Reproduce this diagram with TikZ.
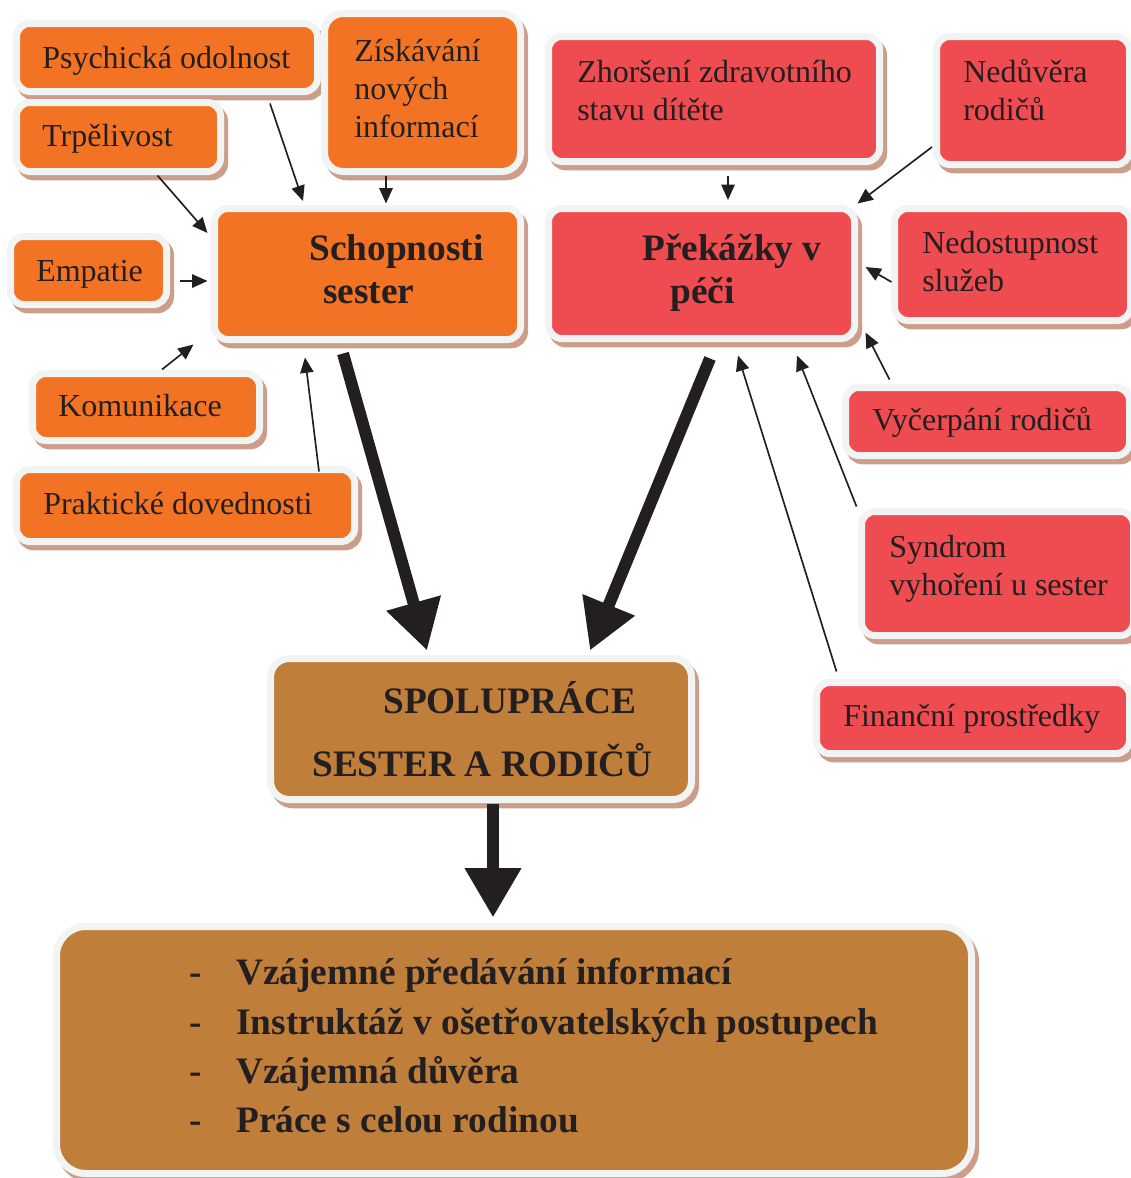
\documentclass[tikz,border=0pt]{standalone}
\usepackage{fontspec}
\setmainfont{Liberation Serif}
\usetikzlibrary{arrows.meta,calc,shadows}
\definecolor{boxorange}{HTML}{F27323}
\definecolor{boxred}{HTML}{EE4C50}
\definecolor{boxbrown}{HTML}{BF7E3A}
\definecolor{rimgray}{HTML}{F2F4F3}
\definecolor{shadowtan}{HTML}{CC9E8A}
\definecolor{ink}{HTML}{231F20}
\begin{document}
\begin{tikzpicture}[x=0.75pt,y=-0.75pt,
  card/.style={draw=rimgray, line width=5.25pt, rounded corners=10pt, inner sep=0pt,
    drop shadow={shadow xshift=3pt, shadow yshift=-4pt, fill=shadowtan,
      draw=shadowtan, line width=5.25pt, opacity=1}},
  sz/.style 2 args={minimum width={(#1+7)*0.75pt}, minimum height={(#2+7)*0.75pt}},
  orange/.style={card, fill=boxorange},
  red/.style={card, fill=boxred},
  brown/.style={card, fill=boxbrown},
  txt/.style={anchor=base west, inner sep=0pt, text=ink, font=\fontsize{24}{28}\selectfont},
  btxt/.style={anchor=base west, inner sep=0pt, text=ink, font=\fontsize{28}{32}\selectfont\bfseries},
  thin arrow/.style={draw=ink, line width=1.25pt, -{Triangle[length=11.5pt,width=10pt]}},
  big arrow/.style={draw=ink, line width=9pt, -{Triangle[length=37pt,width=40pt]}}
]
\useasboundingbox (0,0) rectangle (1131,1178);

% --- left group: abilities of nurses
\node[orange, sz={294}{61}] (psy) at (167,57.5) {};
\node[orange, sz={189}{151}, rounded corners=14pt] (zis) at (422.5,92.5) {};
\node[orange, sz={197}{62}] (trp) at (118.5,137) {};
\node[orange, sz={149}{61}] (emp) at (88.5,270.5) {};
\node[orange, sz={299}{124}] (sch) at (367.5,274) {};
\node[orange, sz={220}{60}] (kom) at (146,407) {};
\node[orange, sz={331}{65}] (pra) at (185.5,505.5) {};

% --- right group: obstacles in care
\node[red, sz={324}{118}] (zho) at (714,99) {};
\node[red, sz={186}{121}] (ned) at (1033,100.5) {};
\node[red, sz={299}{123}] (pre) at (701.5,273.5) {};
\node[red, sz={229}{105}] (nds) at (1012.5,264.5) {};
\node[red, sz={277}{61}] (vyc) at (987.5,421.5) {};
\node[red, sz={265}{117}] (syn) at (997.5,573.5) {};
\node[red, sz={306}{64}] (fin) at (973,718) {};

% --- cooperation and its outcomes
\node[brown, sz={414}{134}, rounded corners=14pt] (spo) at (481,729) {};
\node[brown, sz={908}{240}, rounded corners=22pt] (res) at (514,1050) {};

% --- texts
\node[txt] (psy-t) at (42,68) {Psychická odolnost};
\node[txt] (zis-t1) at (354,61) {Získávání};
\node[txt] (zis-t2) at (354,99) {nových};
\node[txt] (zis-t3) at (354,137) {informací};
\node[txt] (trp-t) at (42,146) {Trpělivost};
\node[txt] (emp-t) at (36,281) {Empatie};
\node[btxt] (sch-t1) at (309,260) {Schopnosti};
\node[btxt] (sch-t2) at (323,303) {sester};
\node[txt] (kom-t) at (58,416) {Komunikace};
\node[txt] (pra-t) at (43,514) {Praktické dovednosti};

\node[txt] (zho-t1) at (577,82) {Zhoršení zdravotního};
\node[txt] (zho-t2) at (577,120) {stavu dítěte};
\node[txt] (ned-t1) at (963,82) {Nedůvěra};
\node[txt] (ned-t2) at (963,120) {rodičů};
\node[btxt] (pre-t1) at (642,260) {Překážky v};
\node[btxt] (pre-t2) at (670,303) {péči};
\node[txt] (nds-t1) at (922,253) {Nedostupnost};
\node[txt] (nds-t2) at (922,291) {služeb};
\node[txt] (vyc-t) at (872,430) {Vyčerpání rodičů};
\node[txt] (syn-t1) at (889,557) {Syndrom};
\node[txt] (syn-t2) at (889,595) {vyhoření u sester};
\node[txt] (fin-t) at (843,726) {Finanční prostředky};

\node[btxt] (spo-t1) at (383,713) {SPOLUPRÁCE};
\node[btxt] (spo-t2) at (312,776) {SESTER A RODIČŮ};

\node[btxt] (res-t1) at (189,984) {\makebox[35.25pt][l]{-}Vzájemné předávání informací};
\node[btxt] (res-t2) at (189,1034) {\makebox[35.25pt][l]{-}Instruktáž v ošetřovatelských postupech};
\node[btxt] (res-t3) at (189,1083) {\makebox[35.25pt][l]{-}Vzájemná důvěra};
\node[btxt] (res-t4) at (189,1132) {\makebox[35.25pt][l]{-}Práce s celou rodinou};

% --- thin arrows into the abilities box
\draw[thin arrow] ($(psy.south)+(103,8.5)$) -- ($(sch.north)+(-64.5,-4)$);
\draw[thin arrow] ($(zis.south)+(-36.5,1)$) -- ($(sch.north)+(18.5,-1.5)$);
\draw[thin arrow] ($(trp.south)+(39,0.5)$) -- ($(sch.west)+(-3.5,-41)$);
\draw[thin arrow] ($(emp.east)+(10,10.5)$) -- ($(sch.west)+(-3.5,7)$);
\draw[thin arrow] ($(kom.north)+(16,-0.5)$) -- ($(sch.south west)+(-17.5,1.5)$);
\draw[thin arrow] ($(pra.north)+(133.5,5.5)$) -- ($(sch.south)+(-62.5,14.5)$);

% --- thin arrows into the obstacles box
\draw[thin arrow] ($(zho.south)+(14,10.5)$) -- ($(pre.north)+(26.5,-5)$);
\draw[thin arrow] ($(ned.west)+(-1,46.5)$) -- ($(pre.north east)+(-0.5,-1.5)$);
\draw[thin arrow] ($(nds.west)+(0.5,17.5)$) -- ($(pre.east)+(7.5,-6.5)$);
\draw[thin arrow] ($(vyc.north west)+(47.5,-4.5)$) -- ($(pre.south east)+(7.5,-9.5)$);
\draw[thin arrow] ($(syn.north west)+(-1.5,-1.5)$) -- ($(pre.south)+(95.5,13.5)$);
\draw[thin arrow] ($(fin.north west)+(23.5,-7.5)$) -- ($(pre.south)+(36.5,13.5)$);

% --- thick arrows
\draw[big arrow] ($(sch.south)+(-24.5,10.5)$) -- ($(spo.north)+(-54,-4.5)$);
\draw[big arrow] ($(pre.south)+(8.5,16.5)$) -- ($(spo.north)+(109,-4.5)$);
\draw[big arrow] ($(spo.south)+(12,0.5)$) -- ($(res.north)+(-21,-5.5)$);
\end{tikzpicture}
\end{document}
